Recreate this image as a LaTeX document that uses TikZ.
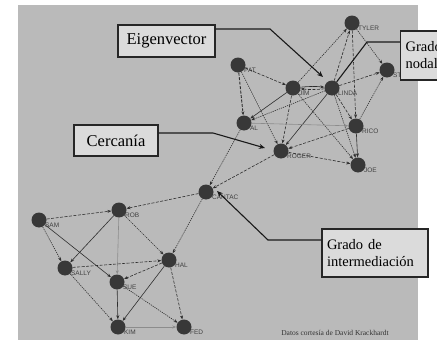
\documentclass[tikz,border=0pt]{standalone}
\usepackage{fontspec}
\setmainfont{Liberation Serif}
\setsansfont{Liberation Sans}
\usetikzlibrary{arrows.meta,positioning}
\colorlet{panel}{black!27}
\tikzset{
  actor/.style  = { circle, fill=black!78, minimum size=15pt, inner sep=0pt,
    label={[lbl]below right:#1} },
  lbl/.style    = { font=\sffamily\fontsize{6.5}{6.5}\selectfont, text=black!75,
    inner sep=0.5pt, yshift=3pt },
  tie/.style    = { -{Stealth[length=4pt,width=3pt]}, draw=black!82, line width=0.6pt },
  dsh/.style    = { dash pattern=on 3pt off 1.5pt },
  dot/.style    = { dash pattern=on 1.2pt off 1pt },
  faint/.style  = { draw=black!45 },
  note/.style   = { draw=black!85, line width=1.2pt, fill=black!14, inner sep=4pt,
    font=\fontsize{16.5}{17}\selectfont },
  pointer/.style= { line width=1.1pt, draw=black!90, -{Stealth[length=6pt,width=5pt]} }
}

\begin{document}
\begin{tikzpicture}[x=1pt,y=-1pt]
    \useasboundingbox (0,0) rectangle (437,340);
    \clip (0,0) rectangle (437,340);
    \fill[panel] (18,5) rectangle (418,340);

    % upper group
    \node[actor=TYLER]  (tyler) at (352,23)  {};
    \node[actor=STEVE]  (steve) at (387,70)  {};
    \node[actor=PAT]    (pat)   at (238,65)  {};
    \node[actor=JIM]    (jim)   at (293,88)  {};
    \node[actor=LINDA]  (linda) at (332,88)  {};
    \node[actor=AL]     (al)    at (244,123) {};
    \node[actor=RICO]   (rico)  at (356,126) {};
    \node[actor=ROGER]  (roger) at (281,151) {};
    \node[actor=JOE]    (joe)   at (358,165) {};
    % broker
    \node[actor=CANTAC] (cantac) at (206,192) {};
    % lower group
    \node[actor=ROB]    (rob)   at (119,210) {};
    \node[actor=SAM]    (sam)   at (39,220)  {};
    \node[actor=HAL]    (hal)   at (169,260) {};
    \node[actor=SALLY]  (sally) at (65,268)  {};
    \node[actor=SUE]    (sue)   at (117,282) {};
    \node[actor=KIM]    (kim)   at (118,327) {};
    \node[actor=FED]    (fed)   at (184,327) {};

    \path[tie] (pat) edge[dsh] (jim);
    \path[tie] (pat) edge[dsh,line width=0.9pt] (al);
    \path[tie] (pat) edge[dot] (roger);
    \path[tie] (jim) edge[bend left=6] (linda);
    \path[tie] (linda) edge[bend left=6,dsh] (jim);
    \path[tie] (jim) edge (al);
    \path[tie] (jim) edge[dsh] (roger);
    \path[tie] (jim) edge[dot] (tyler);
    \path[tie] (jim) edge[dot] (joe);
    \path[tie] (linda) edge[dsh] (tyler);
    \path[tie] (linda) edge[dsh] (steve);
    \path[tie] (linda) edge[dsh] (rico);
    \path[tie] (linda) edge[dot] (joe);
    \path[tie] (linda) edge[dot] (al);
    \path[tie] (linda) edge (roger);
    \path[tie] (tyler) edge[dot] (steve);
    \path[tie] (tyler) edge[dsh] (rico);
    \path[tie] (rico) edge[dot] (steve);
    \path[tie] (rico) edge[dsh] (roger);
    \path[tie] (rico) edge (joe);
    \path[tie] (roger) edge[dsh] (joe);
    \path[tie] (al) edge[faint] (rico);
    \path[tie] (al) edge[dot] (cantac);
    \path[tie] (roger) edge[dsh] (cantac);

    \path[tie] (cantac) edge[dsh] (rob);
    \path[tie] (cantac) edge[dot] (hal);
    \path[tie] (sam) edge[dsh] (rob);
    \path[tie] (sam) edge[dot] (sally);
    \path[tie] (sam) edge (sue);
    \path[tie] (rob) edge (sally);
    \path[tie] (rob) edge[dot] (hal);
    \path[tie] (rob) edge[faint] (sue);
    \path[tie] (sally) edge[dsh] (hal);
    \path[tie] (hal) edge[dsh] (sue);
    \path[tie] (hal) edge (kim);
    \path[tie] (hal) edge[dsh] (fed);
    \path[tie] (sally) edge[dot] (kim);
    \path[tie] (sue) edge[dot] (fed);
    \path[tie] (kim) edge[faint] (fed);
    \path[tie] (sue) edge (kim);

    % callouts
    \node[note, minimum width=97pt, minimum height=32pt] (eig) at (166.5,41) {Eigenvector};
    \node[note, minimum width=84pt, minimum height=31pt] (cerc) at (116,140.5) {Cercan\'{\i}a};
    \node[note, text width=96pt, inner sep=5pt, minimum height=48pt, align=left,
      font=\fontsize{14.5}{17}\selectfont] (inter) at (375,253) {Grado de\\intermediaci\'on};
    \node[note, anchor=west, text width=52pt, inner sep=5pt, minimum height=49pt, align=left,
      font=\fontsize{14.5}{17}\selectfont] (nodal) at (400,55.5) {Grado\\nodal};

    \coordinate (eigbend) at (270,29);
    \coordinate (eigtip) at (323,77);
    \coordinate (cercbend) at (213,133);
    \coordinate (cerctip) at (265,148);
    \coordinate (interbend) at (268,240);
    \coordinate (intertip) at (217,191);
    \coordinate (nodalbend) at (367,42);

    \draw[pointer] ([yshift=12pt]eig.east) -- (eigbend) -- (eigtip);
    \draw[pointer] ([yshift=7.5pt]cerc.east) -- (cercbend) -- (cerctip);
    \draw[pointer] ([yshift=13pt]inter.west) -- (interbend) -- (intertip);
    \draw[line width=1.1pt, draw=black!90] ([yshift=13.5pt]nodal.west) -- (nodalbend) -- (linda);

    \node[font=\fontsize{7.5}{7.5}\selectfont, text=black!80] (credit) at (335,333)
      {Datos cortes\'{\i}a de David Krackhardt};
\end{tikzpicture}
\end{document}
